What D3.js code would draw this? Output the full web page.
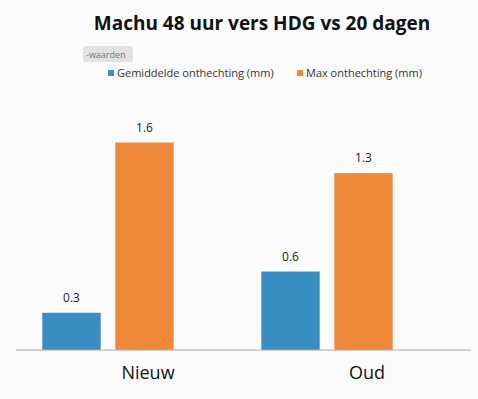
<!DOCTYPE html>
<html>
<head>
<meta charset="utf-8">
<script src="https://cdn.jsdelivr.net/npm/d3@7"></script>
<style>
  body { margin: 0; background: #fbfbfb; }
  svg { display: block; font-family: "Open Sans", sans-serif; }
</style>
</head>
<body>
<div id="chart"></div>
<script>
// data
const categories = ['Nieuw', 'Oud'];
const seriesNames = ['Gemiddelde onthechting (mm)', 'Max onthechting (mm)'];
const gemiddelde = [0.28, 0.59];
const maxOnthechting = [1.56, 1.33];
const colors = ['#3a8ec4', '#f0883a'];

const width = 478, height = 399;
const baseY = 350;

const rows = categories.map((c, i) => ({
  cat: c,
  values: [
    { key: seriesNames[0], v: gemiddelde[i] },
    { key: seriesNames[1], v: maxOnthechting[i] }
  ]
}));

const svg = d3.select('#chart').append('svg')
  .attr('width', width)
  .attr('height', height);

// title
svg.append('text')
  .attr('x', 262).attr('y', 30)
  .attr('text-anchor', 'middle')
  .style('font-size', '19px')
  .style('font-weight', 'bold')
  .style('fill', '#111')
  .text('Machu 48 uur vers HDG vs 20 dagen');

// "-waarden" tag
svg.append('rect')
  .attr('x', 83).attr('y', 46).attr('width', 50).attr('height', 16).attr('rx', 3)
  .attr('fill', '#e2e2e2');
svg.append('text')
  .attr('x', 86).attr('y', 57.5)
  .style('font-size', '9px')
  .style('fill', '#777')
  .text('-waarden');

// legend
const legendX = [108, 297];
const legend = svg.selectAll('.legend')
  .data(seriesNames)
  .join('g')
  .attr('class', 'legend')
  .attr('transform', (d, i) => `translate(${legendX[i]},70)`);
legend.append('rect')
  .attr('width', 6).attr('height', 6)
  .attr('fill', (d, i) => colors[i]);
legend.append('text')
  .attr('x', 9).attr('y', 7)
  .style('font-size', '11px')
  .style('fill', '#333')
  .text(d => d);

// scales
const x0 = d3.scaleBand()
  .domain(categories)
  .range([-1.5, 436.5])
  .paddingInner(0.4)
  .paddingOuter(0.2);

const x1 = d3.scaleBand()
  .domain(seriesNames)
  .range([0, x0.bandwidth()])
  .paddingInner(0.2);

const y = d3.scaleLinear()
  .domain([0, 1.8])
  .range([baseY, baseY - 1.8 * 133]);

const color = d3.scaleOrdinal().domain(seriesNames).range(colors);

// bars
const groups = svg.selectAll('.group')
  .data(rows)
  .join('g')
  .attr('class', 'group')
  .attr('transform', d => `translate(${x0(d.cat)},0)`);

groups.selectAll('rect')
  .data(d => d.values)
  .join('rect')
  .attr('x', d => x1(d.key))
  .attr('y', d => y(d.v))
  .attr('width', x1.bandwidth())
  .attr('height', d => y(0) - y(d.v))
  .attr('fill', d => color(d.key));

groups.selectAll('.val')
  .data(d => d.values)
  .join('text')
  .attr('class', 'val')
  .attr('x', d => x1(d.key) + x1.bandwidth() / 2)
  .attr('y', d => y(d.v) - 11)
  .attr('text-anchor', 'middle')
  .style('font-size', '12px')
  .style('fill', '#222')
  .text(d => d3.format('.1f')(d.v));

// baseline
svg.append('line')
  .attr('x1', 16).attr('x2', 471)
  .attr('y1', y(0)).attr('y2', y(0))
  .attr('stroke', '#aaa')
  .attr('stroke-width', 1);

// category axis (labels sit right of the bar groups)
const xAxis = svg.append('g')
  .attr('transform', `translate(40,${y(0)})`)
  .call(d3.axisBottom(x0).tickSize(0).tickPadding(16));
xAxis.select('.domain').remove();
xAxis.selectAll('text')
  .style('font-size', '18px')
  .style('font-family', '"Open Sans", sans-serif')
  .style('fill', '#111');
</script>
</body>
</html>
